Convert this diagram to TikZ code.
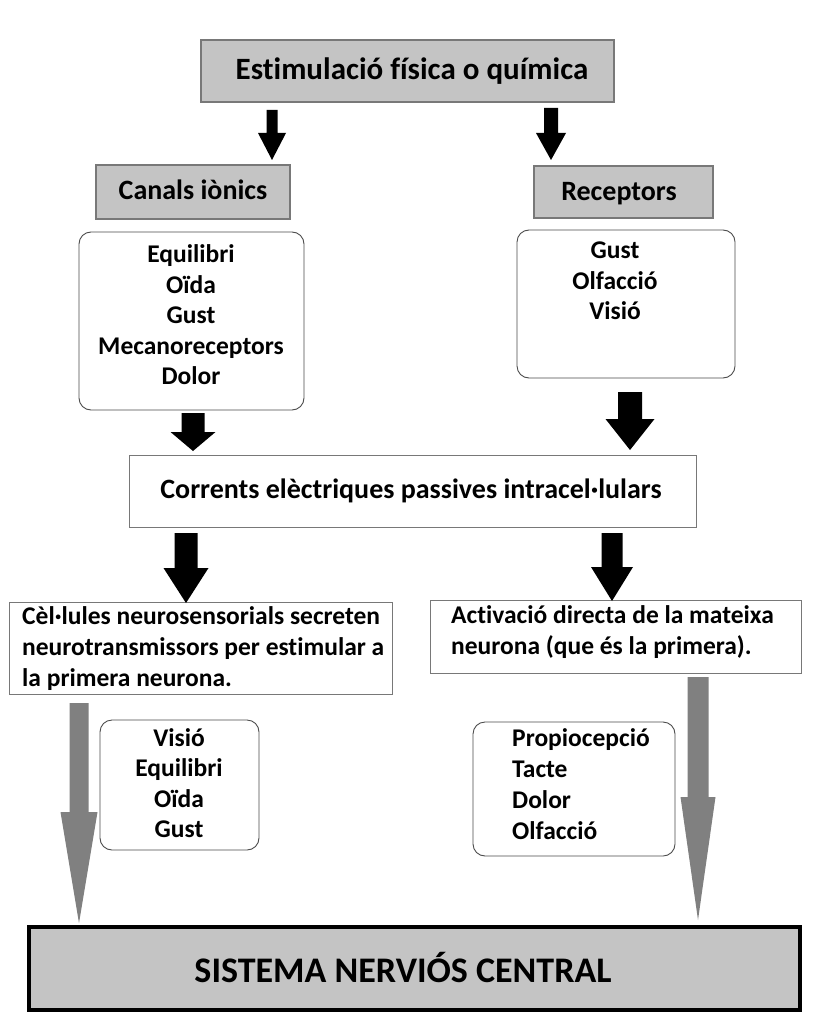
\documentclass[tikz,border=0pt]{standalone}
\usepackage{fontspec}
\setmainfont{Carlito}[Ligatures={NoCommon}]
\definecolor{boxgray}{RGB}{196,196,196}
\definecolor{edgegray}{RGB}{120,120,120}
\definecolor{arrowgray}{RGB}{128,128,128}
\newcommand{\barrow}[7]{%
  \fill[#7] ({#1-#5/2},#2) -- ({#1+#5/2},#2) -- ({#1+#5/2},#3) -- ({#1+#6/2},#3)
    -- (#1,#4) -- ({#1-#6/2},#3) -- ({#1-#5/2},#3) -- cycle;}
\tikzset{
  graybox/.style={draw=edgegray, line width=1.2pt, fill=boxgray, outer sep=0pt, inner sep=0pt},
  whitebox/.style={draw=edgegray, line width=1pt, fill=white, outer sep=0pt, inner sep=0pt},
  roundbox/.style={draw=black!70, line width=0.9pt, rounded corners=12pt, fill=white, outer sep=0pt, inner sep=0pt},
  snc/.style={draw=black, line width=3.5pt, fill=boxgray, outer sep=0pt, inner sep=0pt},
  txt/.style={inner sep=0pt, font=\bfseries\fontsize{25.5}{30.5}\selectfont, align=center},
  onetxt/.style={inner sep=0pt, anchor=base},
  ltxt/.style={inner sep=0pt, font=\bfseries\fontsize{25.5}{31}\selectfont, align=left, anchor=west},
}
\begin{document}
\begin{tikzpicture}[x=1pt,y=-1pt]
\useasboundingbox[fill=white] (0,0) rectangle (830,1024);
% boxes
\node[graybox, minimum width=413pt, minimum height=62pt] (top) at (407.5,71) {};
\node[onetxt, font=\bfseries\fontsize{31}{34}\selectfont] (toptxt) at (412,80) {Estimulació física o química};
\node[graybox, minimum width=194pt, minimum height=54pt] (canals) at (193,192) {};
\node[onetxt, font=\bfseries\fontsize{28}{32}\selectfont] (canalstxt) at (193,200) {Canals iònics};
\node[graybox, minimum width=179pt, minimum height=52pt] (recep) at (623.5,192) {};
\node[onetxt, font=\bfseries\fontsize{28}{32}\selectfont] (receptxt) at (619,201) {Receptors};
\node[roundbox, minimum width=225pt, minimum height=178pt] (r1) at (191.5,321) {};
\node[txt] (r1txt) at (191,315) {Equilibri\\Oïda\\Gust\\Mecanoreceptors\\Dolor};
\node[roundbox, minimum width=218pt, minimum height=148pt] (r2) at (626,304) {};
\node[txt] (r2txt) at (615,281) {Gust\\Olfacció\\Visió};
\node[whitebox, minimum width=567pt, minimum height=72pt] (corr) at (412.5,491) {};
\node[onetxt, font=\bfseries\fontsize{28}{32}\selectfont] (corrtxt) at (411,498) {Corrents elèctriques passives intracel·lulars};
\node[whitebox, minimum width=383pt, minimum height=92pt] (cel) at (200.5,648) {};
\node[ltxt] (celtxt) at (22,649) {Cèl·lules neurosensorials secreten\\neurotransmissors per estimular a\\la primera neurona.};
\node[whitebox, minimum width=371pt, minimum height=73pt] (act) at (615.5,636.5) {};
\node[ltxt] (acttxt) at (451,632) {Activació directa de la mateixa\\neurona (que és la primera).};
\node[roundbox, minimum width=159pt, minimum height=130pt] (r3) at (179.5,785) {};
\node[txt] (r3txt) at (179,783) {Visió\\Equilibri\\Oïda\\Gust};
\node[roundbox, minimum width=202pt, minimum height=134pt] (r4) at (574,789) {};
\node[ltxt] (r4txt) at (512,784) {Propiocepció\\Tacte\\Dolor\\Olfacció};
\node[snc, minimum width=771pt, minimum height=83pt] (sncbox) at (414.5,968.5) {};
\node[onetxt, font=\bfseries\fontsize{36}{40}\selectfont] (snctxt) at (403,982) {SISTEMA NERVIÓS CENTRAL};
% block arrows
\barrow{272}{110}{133}{160}{11}{28}{black}
\barrow{551}{108}{133}{160}{14}{30}{black}
\barrow{193}{413}{432}{451}{23}{45}{black}
\barrow{630}{392}{419}{450}{24}{49}{black}
\barrow{186}{533}{568}{603}{23}{45}{black}
\barrow{612}{533}{567}{601}{21}{42}{black}
\barrow{79}{703}{812}{923}{19}{37}{arrowgray}
\barrow{698}{677}{797}{920}{21}{35}{arrowgray}
\end{tikzpicture}
\end{document}
